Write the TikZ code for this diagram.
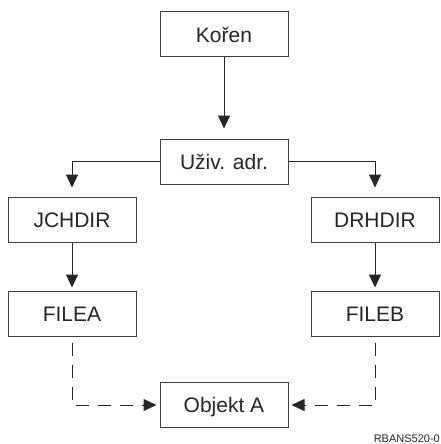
\documentclass[tikz,border=0pt]{standalone}
\usepackage{fontspec}
\setmainfont{Liberation Sans}
\usepackage{tikz}
\usetikzlibrary{positioning,arrows.meta}

\begin{document}
\begin{tikzpicture}[
    every node/.style={on grid},
    box/.style={draw=black!75,line width=1pt,minimum width=128pt,minimum height=45pt,
      text height=15pt,text depth=0pt,inner sep=0pt,text=black!85,
      font=\fontsize{21}{25}\selectfont},
    arr/.style={-{Triangle[length=13pt,width=12pt]},line width=1pt,black!85},
    dashline/.style={arr,dash pattern=on 13pt off 9pt}]
    \useasboundingbox (0pt,0pt) rectangle (440pt,-444pt);
    \node[box] (koren) at (224pt,-34.5pt) {Kořen};
    \node[box,below=127pt of koren] (uziv) {Uživ. adr.};
    \node[box,below left=58pt and 152pt of uziv] (jchdir) {JCHDIR};
    \node[box,below right=58pt and 151pt of uziv] (drhdir) {DRHDIR};
    \node[box,below=94pt of jchdir] (filea) {FILEA};
    \node[box,below=94pt of drhdir] (fileb) {FILEB};
    \node[box,below=243.5pt of uziv] (objekt) {Objekt A};
    \node[anchor=base east,text=black!85,font=\fontsize{11}{13}\selectfont,inner sep=0pt]
      (code) at (440pt,-442pt) {RBANS520-0};
    \draw[arr,shorten >=10pt] (koren) -- (uziv);
    \draw[arr,shorten >=9pt] (uziv.west) -| (jchdir);
    \draw[arr,shorten >=9pt] (uziv.east) -| (drhdir);
    \draw[arr,shorten >=3pt] (jchdir) -- (filea);
    \draw[arr,shorten >=3pt] (drhdir) -- (fileb);
    % dashed links to the object
    \draw[dashline,shorten <=6pt,shorten >=3pt] (filea) |- (objekt);
    \draw[dashline,shorten <=6pt,shorten >=3pt] (fileb) |- (objekt);
\end{tikzpicture}
\end{document}
